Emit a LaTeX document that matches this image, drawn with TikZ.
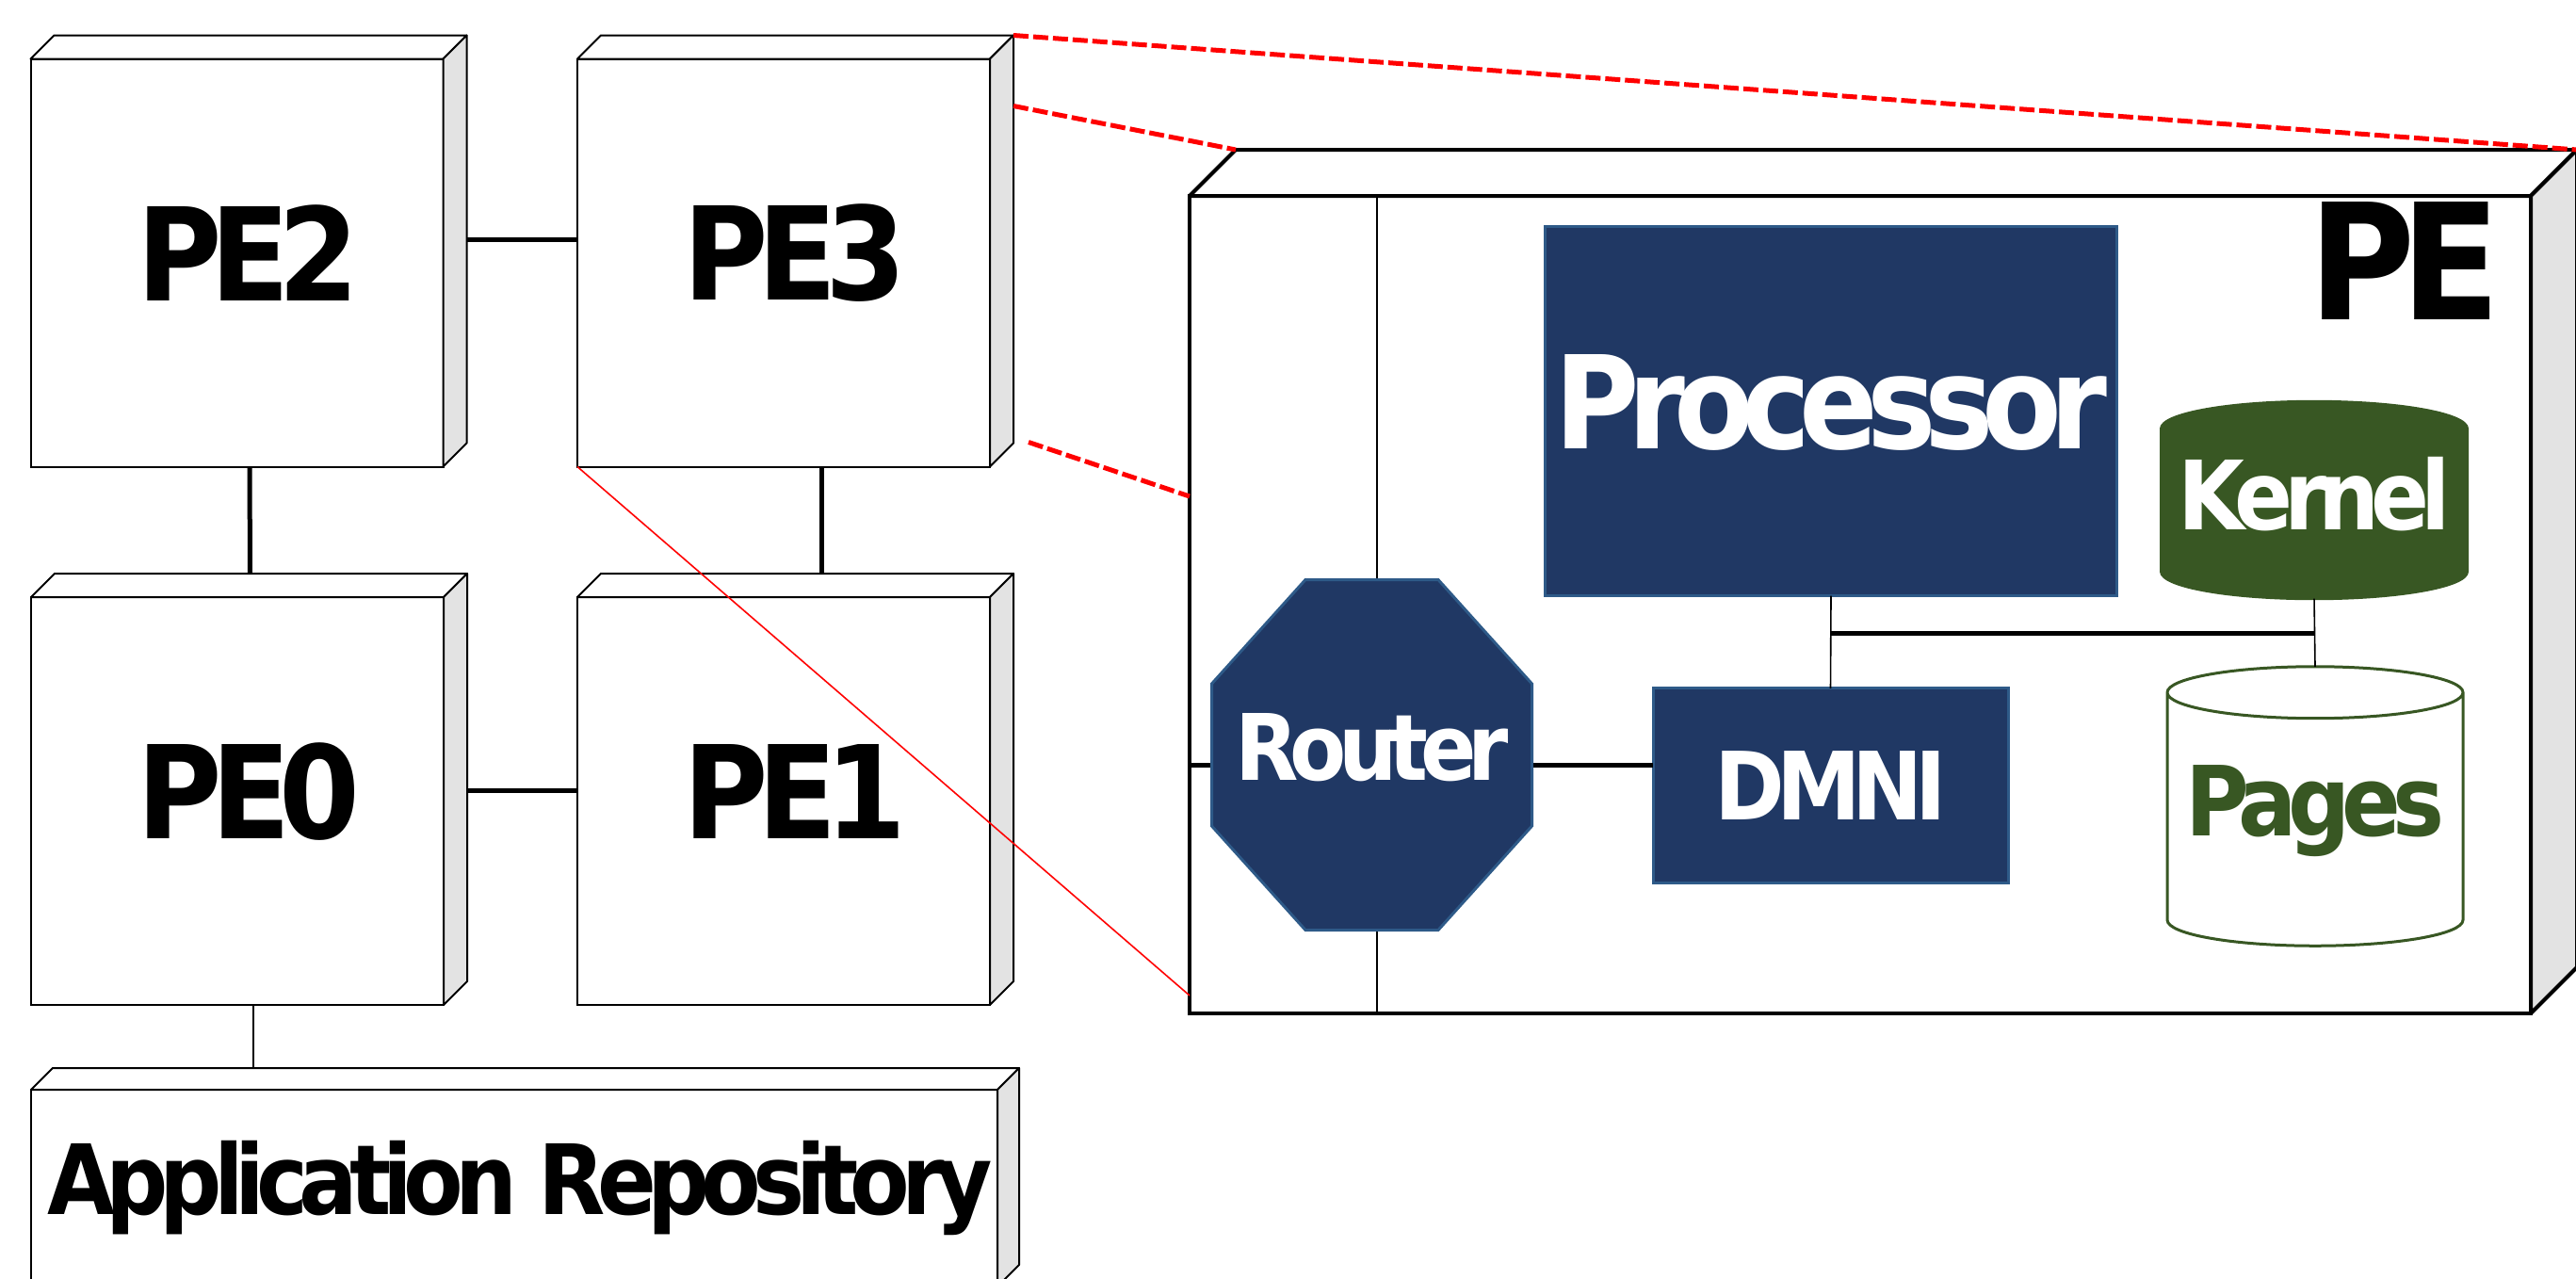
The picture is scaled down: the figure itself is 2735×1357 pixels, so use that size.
\documentclass[tikz,border=0pt]{standalone}
\usepackage{fontspec}
\usetikzlibrary{shapes.geometric}

\newfontfamily\tagfont{DejaVu Sans}[FakeStretch=0.9,LetterSpace=-9]

\definecolor{navy}{HTML}{203864}
\definecolor{navyedge}{HTML}{2E5A88}
\definecolor{leaf}{HTML}{385723}
\definecolor{sidegray}{HTML}{E3E3E3}

% top and right faces of a node drawn as a box: node, depth, line width
\newcommand{\boxfaces}[3]{%
  \draw[line width=#3, fill=white, line join=round] (#1.north west) -- ++(#2,-#2)
    -- ([shift={(#2,-#2)}]#1.north east) -- (#1.north east) -- cycle;
  \draw[line width=#3, fill=sidegray, line join=round] (#1.north east) -- ++(#2,-#2)
    -- ([shift={(#2,-#2)}]#1.south east) -- (#1.south east) -- cycle;}

\begin{document}
\begin{tikzpicture}[x=0.5pt, y=-0.5pt,
  unit/.style={draw, fill=white, line width=1pt, outer sep=0pt, inner sep=0pt,
    minimum width=219pt, minimum height=216.5pt},
  tag/.style={font={\tagfont\bfseries\fontsize{#1}{#1}\selectfont}},
  bus/.style={line width=2.5pt},
  wire/.style={line width=0.8pt},
  block/.style={draw=navyedge, fill=navy, line width=1.5pt, text=white,
    inner sep=0pt, outer sep=0pt},
  store/.style={cylinder, shape border rotate=90, draw=leaf, line width=1.5pt,
    aspect=0.2, inner sep=0pt, outer sep=0pt, anchor=shape center},
  zoom/.style={red, line width=2.5pt, dash pattern=on 8pt off 2.5pt},
  % octagon inside the node box, corners cut by #1 (x) and #2 (y)
  octagon/.style 2 args={outer sep=0pt, inner sep=0pt, text=white, path picture={
    \draw[navyedge, fill=navy, line width=1.5pt]
      ([shift={(#1,1.5)}]path picture bounding box.north west)
      -- ([shift={(-#1,1.5)}]path picture bounding box.north east)
      -- ([shift={(-1.5,#2)}]path picture bounding box.north east)
      -- ([shift={(-1.5,-#2)}]path picture bounding box.south east)
      -- ([shift={(-#1,-1.5)}]path picture bounding box.south east)
      -- ([shift={(#1,-1.5)}]path picture bounding box.south west)
      -- ([shift={(1.5,-#2)}]path picture bounding box.south west)
      -- ([shift={(1.5,#2)}]path picture bounding box.north west) -- cycle;}},
  ]
\useasboundingbox (0,0) rectangle (2735,1357);
\clip (0,0) rectangle (2735,1357);

% the 2x2 mesh
\node [unit, label={[name=pe2-text, tag=68.6pt, xshift=6pt, yshift=5pt]center:PE2}] (pe2) at (251.5,279) {};
\node [unit, label={[name=pe3-text, tag=68.6pt, xshift=6pt, yshift=5pt]center:PE3}] (pe3) at (832,279) {};
\node [unit, label={[name=pe0-text, tag=68.6pt, xshift=6pt, yshift=5pt]center:PE0}] (pe0) at (252,850.5) {};
\node [unit, label={[name=pe1-text, tag=68.6pt, xshift=6pt, yshift=5pt]center:PE1}] (pe1) at (832,850.5) {};
\node [unit, minimum width=513pt, minimum height=104.5pt,
  label={[name=app-text, tag=51.5pt, xshift=3pt]center:Application Repository}] (app) at (546,1261.5) {};
\boxfaces{pe2}{25}{1pt}
\boxfaces{pe3}{25}{1pt}
\boxfaces{pe0}{25}{1pt}
\boxfaces{pe1}{25}{1pt}
\boxfaces{app}{23}{1pt}

\draw[bus] ([shift={(25,-25)}]pe2.east) -- ([shift={(0,-25)}]pe3.west);
\draw[bus] ([shift={(25,-11)}]pe0.east) -- ([shift={(0,-11)}]pe1.west);
\draw[bus] ([shift={(13.5,0)}]pe2.south) -- ([shift={(13.5,-25)}]pe0.north);
\draw[bus] ([shift={(40,0)}]pe3.south) -- ([shift={(40,-25)}]pe1.north);
\draw[wire] ([shift={(17,0)}]pe0.south) -- ([shift={(-277,-23)}]app.north);

% one PE opened up
\node [draw, line width=2pt, outer sep=0pt, inner sep=0pt,
  minimum width=712pt, minimum height=434pt] (pe) at (1975,642) {};
\boxfaces{pe}{49}{2pt}
\node [tag=85.7pt, anchor=base east, inner sep=0pt] (pe-title) at (2655,339) {PE};

\coordinate (rbus) at (1462,642);
\draw[line width=0.6pt] (rbus |- pe.north) -- (rbus |- pe.south);

\node [block, minimum width=303.5pt, minimum height=196pt, text depth=10pt, tag=68.6pt] (proc) at (1944,436.5) {Processor};
\node [block, minimum width=188.5pt, minimum height=103.25pt, tag=50pt] (dmni) at (1943.5,834) {DMNI};
\node [octagon={101}{112}, minimum width=171.5pt, minimum height=187.5pt,
  text depth=8.5pt, tag=48.7pt] (router) at (1456.5,801.5) {Router};
\node [store, fill=leaf, text=white, minimum width=162.5pt, minimum height=98.25pt,
  text depth=22pt, tag=50.8pt] (kernel) at (2457,531) {Kernel};
\node [store, fill=white, text=leaf, minimum width=157pt, minimum height=148.25pt,
  text depth=20pt, tag=51.4pt] (pages) at (2458,856) {Pages};

\coordinate (rl) at ([yshift=-5.5pt]router.west);
\coordinate (rr) at ([yshift=-5.5pt]router.east);
\draw[bus] (rl) -- (rl -| pe.west);
\draw[bus] (rr) -- (rr -| dmni.west);
\draw[wire] (proc.south) -- (dmni.north);
\coordinate (tap) at ([yshift=-20pt]proc.south);
\draw[bus] (tap) -- (tap -| kernel.south);
\draw[wire] (kernel.south) -- (pages.north);

% zoom lines from PE3
\draw[zoom] ([shift={(25,-25)}]pe3.north east) -- ([shift={(49,-49)}]pe.north east);
\draw[zoom] ([shift={(25,50)}]pe3.north east) -- ([shift={(49,-49)}]pe.north west);
\draw[zoom] ([shift={(41,-26)}]pe3.south east) -- ([shift={(0,-115)}]pe.west);
\draw[red, line width=0.8pt] (pe3.south west) -- ([shift={(0,-19)}]pe.south west);
\end{tikzpicture}
\end{document}
